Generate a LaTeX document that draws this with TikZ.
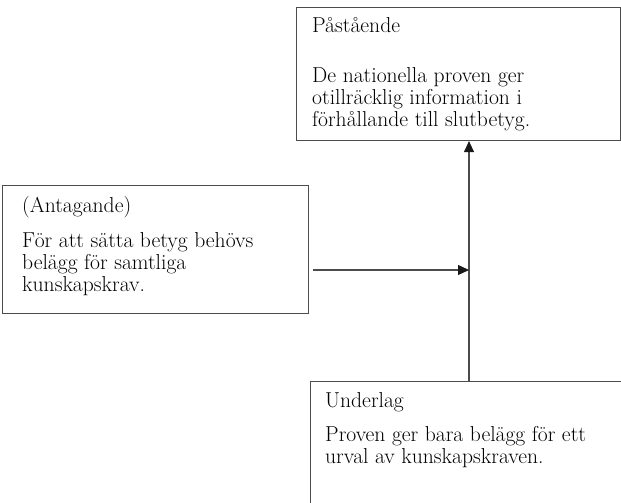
\documentclass[tikz,border=0pt]{standalone}
\usepackage{fontspec}
\usetikzlibrary{arrows.meta}
\begin{document}
\begin{tikzpicture}[x=1pt,y=-1pt,
  box/.style={draw=black!70, line width=1.1pt, rectangle, inner sep=0pt, anchor=north west},
  txt/.style={anchor=base west, inner sep=0pt, font=\fontsize{21.6}{22}\selectfont},
  link/.style={draw=black!70, line width=1.1pt},
  tip/.style={-{Triangle[length=11pt,width=10pt,color=black!90]}}
]
\useasboundingbox (0,0) rectangle (621,503);
\clip (0,0) rectangle (621,503);

% the three argument boxes
\node[box, minimum width=324pt, minimum height=133pt] (claim)  at (296,7)   {};
\node[box, minimum width=306pt, minimum height=128pt] (assume) at (2,185)   {};
\node[box, minimum width=340pt, minimum height=160pt] (ground) at (310,381) {};

% box texts
\node[txt] (claimhead) at (312,33) {Påstående};
\node[txt] (claimbody) at (312,82)
  {\parbox[t]{300pt}{De nationella proven ger\\otillräcklig information i\\förhållande till slutbetyg.}};

\node[txt] (assumehead) at (22,212) {(Antagande)};
\node[txt] (assumebody) at (22,247)
  {\parbox[t]{280pt}{För att sätta betyg behövs\\belägg för samtliga\\kunskapskrav.}};

\node[txt] (groundhead) at (325,407) {Underlag};
\node[txt] (groundbody) at (325,441)
  {\parbox[t]{290pt}{Proven ger bara belägg för ett\\urval av kunskapskraven.}};

% connectors: ground supports claim, assumption joins the support line
\coordinate (j) at (469,270);
\draw[link,tip] (ground.north -| j) -- (claim.south -| j);
\draw[link,tip,shorten <=4pt] (assume.east |- j) -- (j);
\end{tikzpicture}
\end{document}
